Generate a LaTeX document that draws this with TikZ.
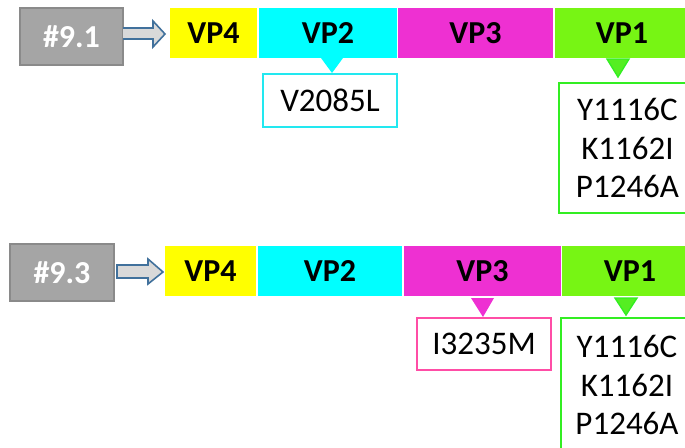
\documentclass[tikz,border=0pt]{standalone}
\usepackage{fontspec}
\setmainfont{Carlito}
\begin{document}
\begin{tikzpicture}[x=1pt,y=-1pt,
  every node/.style={inner sep=0pt, outer sep=0pt},
  seg/.style={anchor=north west, minimum height=50pt, font=\fontsize{32}{36}\selectfont\bfseries, text=black},
  sample/.style={anchor=north west, fill=sampgray, draw=sampedge, line width=1.8pt,
    font=\fontsize{32}{36}\selectfont\bfseries, text=white},
  mutbox/.style={anchor=north west, fill=white, line width=1.8pt, align=center,
    font=\fontsize{33}{38.5}\selectfont},
  blockarrow/.style={fill=arrowfill, draw=arrowedge, line width=1.6pt, line join=miter},
]
\definecolor{sampgray}{HTML}{A5A5A5}
\definecolor{sampedge}{HTML}{8A8A8A}
\definecolor{arrowfill}{HTML}{D9D9D9}
\definecolor{arrowedge}{HTML}{41719C}
\definecolor{vpyellow}{HTML}{FFFF00}
\definecolor{vpcyan}{HTML}{00FFFF}
\definecolor{vpmagenta}{HTML}{EE30D2}
\definecolor{vpgreen}{HTML}{77F514}
\definecolor{cyanedge}{HTML}{22E8F0}
\definecolor{greenedge}{HTML}{33EE22}
\definecolor{pinkedge}{HTML}{FF4DA6}
\definecolor{tripgreen}{HTML}{55EE22}

\useasboundingbox (0,0) rectangle (685,447);

% ---- isolate #9.1 ----
\node[sample, minimum width=103pt, minimum height=57pt] (s1) at (20,8) {\#9.1};
\node[seg, fill=vpyellow,  minimum width=87pt]  (a4) at (170,8) {VP4};
\node[seg, fill=vpcyan,    minimum width=138pt] (a2) at (259,8) {VP2};
\node[seg, fill=vpmagenta, minimum width=155pt] (a3) at (398,8) {VP3};
\node[seg, fill=vpgreen,   minimum width=134pt] (a1) at (555,8) {VP1};

\draw[blockarrow] (s1.east |- 0,28) -- (153,28) -- (153,21) -- (165,34)
  -- (153,47) -- (153,39) -- (s1.east |- 0,39);

\fill[vpcyan] (321,58) -- (343,58) -- (332,73) -- cycle;
\node[mutbox, draw=cyanedge, minimum width=134pt, minimum height=53pt] (m2) at (263,74) {V2085L};

\draw[greenedge, fill=tripgreen, line width=1.4pt, line join=miter] (607,59) -- (629,59) -- (618,77) -- cycle;
\node[mutbox, draw=greenedge, minimum width=137pt, minimum height=130pt] (m1) at (559,83)
  {Y1116C\\K1162I\\P1246A};

% ---- isolate #9.3 ----
\node[sample, minimum width=104pt, minimum height=57pt] (s3) at (10,244) {\#9.3};
\node[seg, fill=vpyellow,  minimum width=91pt]  (b4) at (165,246) {VP4};
\node[seg, fill=vpcyan,    minimum width=144pt] (b2) at (258,246) {VP2};
\node[seg, fill=vpmagenta, minimum width=157pt] (b3) at (404,246) {VP3};
\node[seg, fill=vpgreen,   minimum width=136pt] (b1) at (562,246) {VP1};

\draw[blockarrow] (117,265) -- (148,265) -- (148,259) -- (163,272)
  -- (148,284) -- (148,278) -- (117,278) -- cycle;

\fill[vpmagenta] (471,298) -- (494,298) -- (483,317) -- cycle;
\node[mutbox, draw=pinkedge, minimum width=134pt, minimum height=52pt] (n3) at (417,318) {I3235M};

\draw[greenedge, fill=tripgreen, line width=1.4pt, line join=miter] (615,298) -- (637,298) -- (626,315) -- cycle;
\node[mutbox, draw=greenedge, minimum width=132pt, minimum height=134pt] (n1) at (561,318)
  {Y1116C\\K1162I\\P1246A};
\end{tikzpicture}
\end{document}
